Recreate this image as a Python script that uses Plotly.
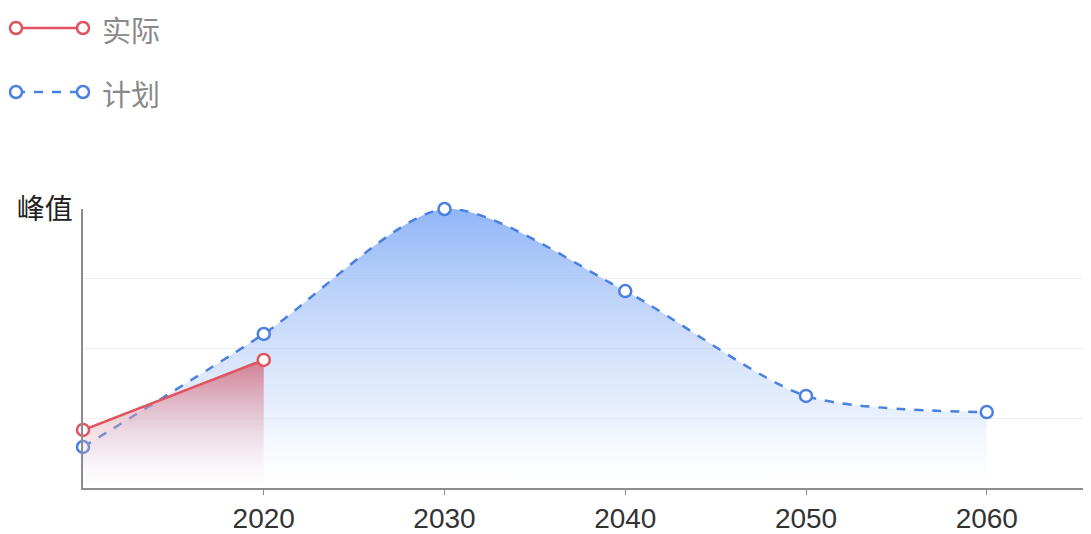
import plotly.graph_objects as go

years_actual = [2010, 2020]
values_actual = [20.8, 45.9]
years_plan = [2010, 2020, 2030, 2040, 2050, 2060]
values_plan = [14.7, 55.2, 100, 70.6, 33.0, 27.2]
x_ticks = [2020, 2030, 2040, 2050, 2060]
y_ticks = [0, 25, 50, 75, 100]
y_ticktext = ["", "", "", "", "峰值"]
series_names = ["实际", "计划"]

RED = "#e0535f"
BLUE = "#4a80e0"
FONT = "Noto Sans CJK SC"
NUMFONT = "Liberation Sans"

# the page body adds an 8px offset; lay out the figure in shifted coordinates
OFF = 8
W, H = 1091 - OFF, 534 - OFF
L, R, T, B = 83 - OFF, 1088 - OFF, 209 - OFF, 488 - OFF

fig = go.Figure()
fig.add_trace(go.Scatter(
    x=years_plan, y=values_plan, name=series_names[1], mode="lines+markers", cliponaxis=False,
    line=dict(color=BLUE, width=2.5, dash="dash", shape="spline", smoothing=0.75),
    marker=dict(symbol="circle", size=12, color="white", line=dict(color=BLUE, width=2.5)),
    fill="tozeroy",
    fillgradient=dict(type="vertical", colorscale=[[0, "rgba(240,245,255,0)"], [0.25, "rgba(212,226,252,0.5)"], [1, "rgba(125,168,245,0.85)"]]),
    showlegend=False,
))
fig.add_trace(go.Scatter(
    x=years_actual, y=values_actual, name=series_names[0], mode="lines+markers", cliponaxis=False,
    line=dict(color=RED, width=2.5, shape="spline", smoothing=1.0),
    marker=dict(symbol="circle", size=12, color="white", line=dict(color=RED, width=2.5)),
    fill="tozeroy",
    fillgradient=dict(type="vertical", colorscale=[[0, "rgba(240,220,225,0)"], [1, "rgba(210,105,125,0.85)"]]),
    showlegend=False,
))


def px(x):
    return (x - OFF - L) / (R - L)


def py(y):
    return (B - (y - OFF)) / (B - T)


shapes = []
annotations = []
for name, color, dash, ypx in [(series_names[0], RED, "solid", 28), (series_names[1], BLUE, "dash", 92)]:
    shapes.append(dict(type="line", xref="paper", yref="paper", x0=px(16), x1=px(83), y0=py(ypx), y1=py(ypx),
                       line=dict(color=color, width=2.5, dash=dash)))
    for cx in (16, 83):
        shapes.append(dict(type="circle", xref="paper", yref="paper", xsizemode="pixel", ysizemode="pixel",
                           xanchor=px(cx), yanchor=py(ypx), x0=-6, x1=6, y0=-6, y1=6,
                           fillcolor="white", line=dict(color=color, width=2.5)))
    annotations.append(dict(text=name, xref="paper", yref="paper", x=px(101), y=py(ypx + 1), xanchor="left",
                            yanchor="middle", showarrow=False, borderpad=0,
                            font=dict(family=FONT, size=29, color="#8a8a8a")))

fig.update_layout(
    width=W, height=H,
    margin=dict(l=L, r=W - R, t=T, b=H - B),
    paper_bgcolor="white", plot_bgcolor="white",
    font=dict(family=FONT, color="#333333"),
    shapes=shapes, annotations=annotations,
    xaxis=dict(range=[2010, 2065.6], tickvals=x_ticks, ticktext=[str(t) for t in x_ticks], automargin=False,
               showgrid=False, zeroline=False, showline=True, linecolor="#8c8c8c", linewidth=1.5,
               ticks="outside", ticklen=5, tickcolor="#8c8c8c", ticklabelstandoff=0,
               tickfont=dict(size=28, color="#333333", family=NUMFONT)),
    yaxis=dict(range=[0, 100], tickvals=y_ticks, ticktext=y_ticktext, showgrid=True, gridcolor="#eeeeee",
               gridwidth=1, zeroline=False, showline=True, linecolor="#8c8c8c", linewidth=1.5, automargin=False,
               ticks="", ticklabelstandoff=3, tickfont=dict(size=28, color="#222222", family=FONT)),
)

fig.write_html("out.html")
